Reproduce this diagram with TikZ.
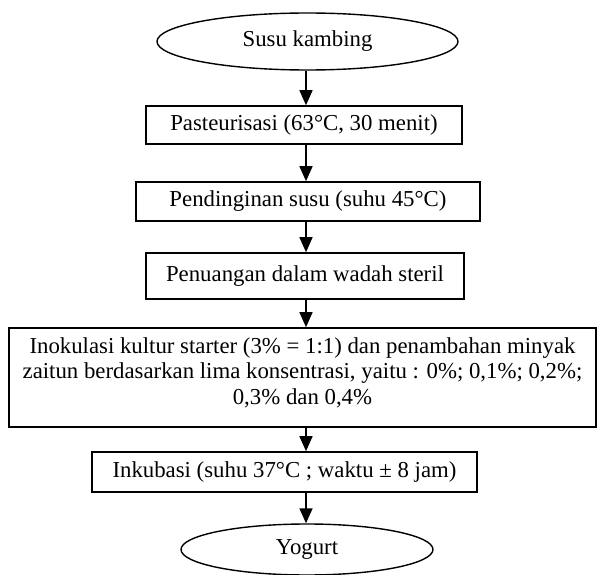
\documentclass[tikz,border=0pt]{standalone}
\usepackage{fontspec}
\setmainfont{Liberation Serif}
\usetikzlibrary{shapes.geometric,arrows.meta}
\begin{document}
\begin{tikzpicture}[x=1pt,y=-1pt,
  every node/.style={font=\fontsize{22.8}{25.5}\selectfont, inner sep=0pt, align=center},
  procbox/.style={draw, line width=1.6pt, rectangle},
  termnode/.style={draw, line width=1.4pt, ellipse},
  arr/.style={line width=1.6pt, -{Triangle[length=15pt,width=13pt]}}]
\useasboundingbox (0,0) rectangle (598,575);
\coordinate (ax) at (306,0);
\node[termnode, minimum width=301pt, minimum height=57pt] (ell1) at (307.5,41.5) {Susu kambing};
\node[procbox, minimum width=316pt, minimum height=38pt] (box1) at (304,125) {Pasteurisasi (63°C, 30 menit)};
\node[procbox, minimum width=344pt, minimum height=39pt] (box2) at (308,201.5) {Pendinginan susu (suhu 45°C)};
\node[procbox, minimum width=318pt, minimum height=46pt] (box3) at (305,276) {Penuangan dalam wadah steril};
\node[procbox, minimum width=587pt, minimum height=99pt] (box4) at (302.5,377.5) {Inokulasi kultur starter (3\% = 1:1) dan penambahan minyak\\zaitun berdasarkan lima konsentrasi, yaitu : 0\%; 0,1\%; 0,2\%;\\0,3\% dan 0,4\%\rule[-13pt]{0pt}{1pt}};
\node[procbox, minimum width=385pt, minimum height=40pt] (box5) at (284.5,472) {Inkubasi (suhu 37°C ; waktu ± 8 jam)};
\node[termnode, minimum width=252pt, minimum height=51pt] (ell2) at (307,549.5) {Yogurt};
\draw[arr] (ax |- ell1.south) -- (ax |- box1.north);
\draw[arr] (ax |- box1.south) -- (ax |- box2.north);
\draw[arr] (ax |- box2.south) -- (ax |- box3.north);
\draw[arr] (ax |- box3.south) -- (ax |- box4.north);
\draw[arr] (ax |- box4.south) -- (ax |- box5.north);
\draw[arr] (ax |- box5.south) -- (ax |- ell2.north);
\end{tikzpicture}
\end{document}
